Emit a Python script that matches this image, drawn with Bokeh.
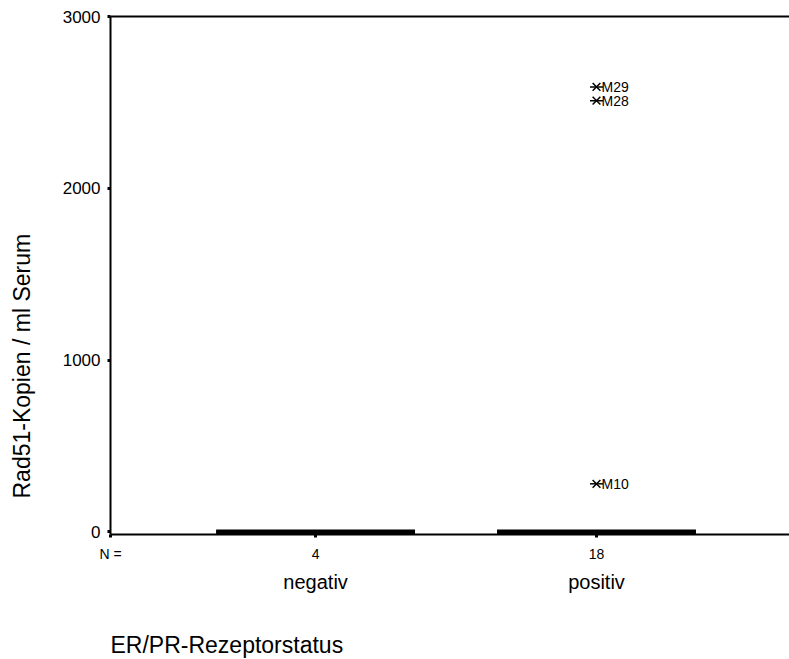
from bokeh.plotting import figure
from bokeh.models import LinearAxis, Range1d, FixedTicker, ColumnDataSource, Title
from bokeh.embed import file_html
from bokeh.resources import INLINE
from bokeh.core.properties import value

# ---------------- data ----------------
categories = ["negativ", "positiv"]
n_counts = [4, 18]
q1 = [0, 0]
median = [0, 0]
q3 = [0, 0]
whisker_low = [0, 0]
whisker_high = [0, 0]
outlier_category = ["positiv", "positiv", "positiv"]
outlier_values = [2590, 2510, 280]
outlier_labels = ["M29", "M28", "M10"]
y_ticks = [0, 1000, 2000, 3000]
x_title = "ER/PR-Rezeptorstatus"
y_title = "Rad51-Kopien / ml Serum"
n_label = "N ="

FONT = "Liberation Sans"
BOX_HALF = 0.354
X_START, X_END = 0.27, 2.687
xpos = [i + 1 for i in range(len(categories))]
cat_to_x = dict(zip(categories, xpos))

p = figure(width=789, height=659, output_backend="svg", toolbar_location=None,
           x_range=Range1d(X_START, X_END), y_range=Range1d(-15, 3000),
           min_border_left=110, min_border_right=0, min_border_top=16,
           min_border_bottom=125)
p.outline_line_color = None
p.grid.visible = False
p.background_fill_color = "white"
p.border_fill_color = "white"

# ----- boxes -----
box_src = ColumnDataSource(dict(
    x=xpos,
    left=[x - BOX_HALF for x in xpos],
    right=[x + BOX_HALF for x in xpos],
    q1=q1, q3=q3, med=median, lo=whisker_low, hi=whisker_high,
    capl=[x - BOX_HALF / 2 for x in xpos],
    capr=[x + BOX_HALF / 2 for x in xpos],
))
p.segment(x0="x", y0="lo", x1="x", y1="q1", source=box_src, line_color="black", line_width=1)
p.segment(x0="x", y0="q3", x1="x", y1="hi", source=box_src, line_color="black", line_width=1)
p.segment(x0="capl", y0="lo", x1="capr", y1="lo", source=box_src, line_color="black", line_width=1)
p.segment(x0="capl", y0="hi", x1="capr", y1="hi", source=box_src, line_color="black", line_width=1)
p.quad(left="left", right="right", bottom="q1", top="q3", source=box_src,
       fill_color=None, line_color="black", line_width=1)
p.segment(x0="left", y0="med", x1="right", y1="med", source=box_src,
          line_color="black", line_width=5)

# ----- extremes -----
out_src = ColumnDataSource(dict(
    x=[cat_to_x[c] for c in outlier_category], y=outlier_values, label=outlier_labels))
p.scatter("x", "y", source=out_src, marker="x", size=11, line_color="black", line_width=1.5)
p.scatter("x", "y", source=out_src, marker="dash", size=13, line_color="black", line_width=1.5)
p.text("x", "y", text="label", source=out_src, x_offset=5, text_baseline="middle",
       text_align="left", text_font=value(FONT), text_font_size="14px", text_color="black")

# ----- y axis -----
ya = p.yaxis[0]
ya.ticker = FixedTicker(ticks=y_ticks)
ya.major_tick_in = 0
ya.major_tick_out = 3
ya.major_tick_line_width = 3
ya.minor_tick_line_color = None
ya.axis_line_width = 2
ya.major_label_standoff = 7
ya.major_label_text_font = FONT
ya.major_label_text_font_size = "17px"
ya.major_label_text_color = "black"
# invisible spacer label to push the title outward
ya.axis_label = " "
ya.axis_label_standoff = 10
ya.axis_label_text_font_size = "10px"

# ----- x axis with counts (and "N =" at the left corner) -----
xa = p.xaxis[0]
xa.ticker = FixedTicker(ticks=[X_START] + xpos)
overrides = {x: str(n) for x, n in zip(xpos, n_counts)}
overrides[X_START] = n_label
xa.major_label_overrides = overrides
xa.major_tick_in = 0
xa.major_tick_out = 3
xa.major_tick_line_width = 3
xa.minor_tick_line_color = None
xa.axis_line_width = 2
xa.major_label_standoff = 8
xa.major_label_text_font = FONT
xa.major_label_text_font_size = "14px"
xa.major_label_text_color = "black"

# ----- category names axis -----
xa2 = LinearAxis(ticker=FixedTicker(ticks=xpos),
                 major_label_overrides={x: c for x, c in zip(xpos, categories)})
xa2.axis_line_color = None
xa2.major_tick_line_color = None
xa2.minor_tick_line_color = None
xa2.major_label_standoff = 0
xa2.major_label_text_font = FONT
xa2.major_label_text_font_size = "20px"
xa2.major_label_text_color = "black"
xa2.axis_label = " "
xa2.axis_label_standoff = 21
xa2.axis_label_text_font_size = "10px"
p.add_layout(xa2, "below")

# ----- x title -----
p.add_layout(Title(text=x_title, align="left", offset=0, vertical_align="middle",
                   standoff=0, text_font=FONT, text_font_size="23px",
                   text_font_style="normal", text_color="black"), "below")

# ----- y title -----
p.add_layout(Title(text=y_title, align="left", offset=36, vertical_align="middle",
                   standoff=0, text_font=FONT, text_font_size="23px",
                   text_font_style="normal", text_color="black"), "left")

# ----- top frame line -----
ta = LinearAxis(ticker=FixedTicker(ticks=[]))
ta.axis_line_width = 2
ta.major_tick_line_color = None
ta.minor_tick_line_color = None
ta.major_label_text_font_size = "0px"
p.add_layout(ta, "above")

html = file_html(p, INLINE)
html = html.replace("<head>", "<head><style>html, body {margin:0; padding:0; overflow:hidden;}</style>", 1)
open("out.html", "w").write(html)
